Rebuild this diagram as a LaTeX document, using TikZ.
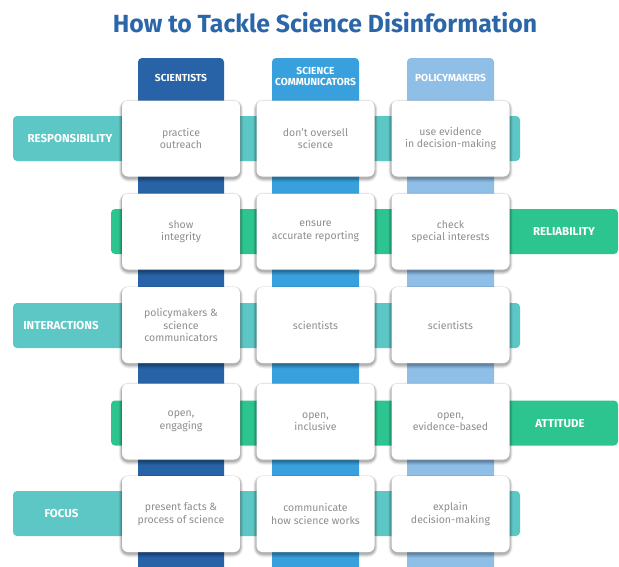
\documentclass[tikz,border=0pt]{standalone}
\usepackage{fontspec}
\setmainfont{Fira Sans}
\definecolor{scicol}{HTML}{2763A6}
\definecolor{comcol}{HTML}{38A1DD}
\definecolor{polcol}{HTML}{8FBEE7}
\definecolor{tealband}{HTML}{5DC7C5}
\definecolor{greenband}{HTML}{2DC58F}
\definecolor{titlecol}{HTML}{2B67A8}
\definecolor{cardtext}{HTML}{8E8E8E}
\begin{document}
\begin{tikzpicture}[x=1pt,y=-1pt,
  card/.style={draw=none,fill=white,rounded corners=6pt,minimum width=118pt,minimum height=76pt,inner sep=0pt,
    font=\fontsize{10.5}{12.5}\selectfont,text=cardtext,align=center},
  bandlabel/.style={text=white,font=\fontsize{11.5}{13}\selectfont\bfseries},
  header/.style={text=white,font=\fontsize{10.2}{12}\selectfont\bfseries,align=center}
]
\useasboundingbox (0,0) rectangle (619,566);
\fill[white] (0,0) rectangle (619,566);

% title
\node[text=titlecol,font=\fontsize{24.8}{28}\selectfont\bfseries] (title) at (325,23) {How to Tackle Science Disinformation};

% rows (bands)
\foreach \y in {138.5,325.5,513.5}{
  \fill[tealband,rounded corners=4pt] (13,\y-22.5) rectangle (520,\y+22.5);
}
\foreach \y in {231.5,423}{
  \fill[greenband,rounded corners=4pt] (111,\y-22.5) rectangle (618,\y+22.5);
}

% columns
\fill[scicol,rounded corners=4pt] (138,58) rectangle (224,590);
\fill[comcol,rounded corners=4pt] (272,58) rectangle (359,590);
\fill[polcol,rounded corners=4pt] (407,58) rectangle (494,590);

\node[header] (h1) at (181,78) {SCIENTISTS};
\node[header] (h2) at (315.5,76.5) {SCIENCE\\[-1.5pt]COMMUNICATORS};
\node[header] (h3) at (450.5,78) {POLICYMAKERS};

% band labels
\node[bandlabel] (l1) at (70,138.5) {RESPONSIBILITY};
\node[bandlabel] (l2) at (564,232) {RELIABILITY};
\node[bandlabel] (l3) at (61,325.5) {INTERACTIONS};
\node[bandlabel] (l4) at (560,423.5) {ATTITUDE};
\node[bandlabel] (l5) at (61.5,514) {FOCUS};

% card shadows
\foreach \cx in {181,315.5,450.5}{
  \foreach \cy in {138.5,231.5,325,421.5,514}{
    \foreach \k/\op in {4/0.05,3/0.07,2/0.09,1/0.12}{
      \fill[black,opacity=\op,rounded corners=6pt+\k pt]
        (\cx-59-\k*0.8,\cy-38-\k*0.5+1) rectangle (\cx+59+\k*0.8,\cy+38+\k+1.5);
    }
  }
}

\node[card] (c11) at (181,138.5) {practice\\outreach};
\node[card] (c12) at (315.5,138.5) {don't oversell\\science};
\node[card] (c13) at (450.5,138.5) {use evidence\\in decision-making};

\node[card] (c21) at (181,231.5) {show\\integrity};
\node[card] (c22) at (315.5,231.5) {ensure\\accurate reporting};
\node[card] (c23) at (450.5,231.5) {check\\special interests};

\node[card] (c31) at (181,325) {policymakers \&\\science\\communicators};
\node[card] (c32) at (315.5,325) {scientists};
\node[card] (c33) at (450.5,325) {scientists};

\node[card] (c41) at (181,421.5) {open,\\engaging};
\node[card] (c42) at (315.5,421.5) {open,\\inclusive};
\node[card] (c43) at (450.5,421.5) {open,\\evidence-based};

\node[card] (c51) at (181,514) {present facts \&\\process of science};
\node[card] (c52) at (315.5,514) {communicate\\how science works};
\node[card] (c53) at (450.5,514) {explain\\decision-making};
\end{tikzpicture}
\end{document}
